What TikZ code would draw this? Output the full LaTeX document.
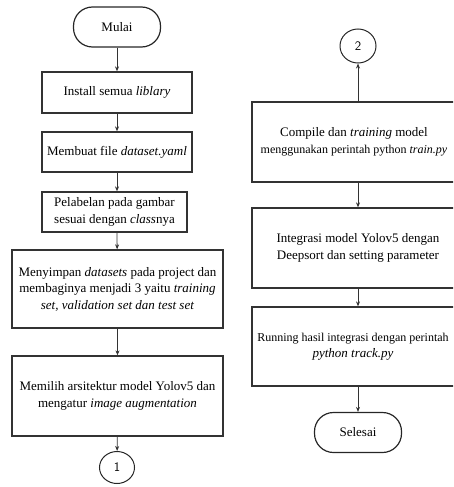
\documentclass[tikz,border=0pt]{standalone}
\usepackage{fontspec}
\setmainfont{Liberation Serif}
\usetikzlibrary{arrows.meta,shapes.geometric}
\begin{document}
\begin{tikzpicture}[x=1pt,y=-1pt,
  box/.style={draw=black!80, line width=1.3pt, align=center, inner sep=0pt,
    font=\fontsize{13}{16.5}\selectfont},
  lbl/.style={align=center, inner sep=0pt, font=\fontsize{13}{16.5}\selectfont},
  term/.style={draw=black!85, line width=1.2pt, rounded corners=19pt, minimum width=87pt, minimum height=40pt,
    font=\fontsize{13}{16}\selectfont, inner sep=0pt},
  conn/.style={draw=black!85, line width=1pt, ellipse, inner sep=0pt},
  arr/.style={-{Stealth[length=5pt,width=4pt]}, line width=0.8pt, black!80}]
\useasboundingbox (0,0) rectangle (453,487);
\clip (0,0) rectangle (453,487);
% left column
\node[term] (mulai) at (117,27) {Mulai};
\node[box, minimum width=150pt, minimum height=41pt] (b1) at (117,92.5) {Install semua \textit{liblary}};
\node[box, minimum width=150pt, minimum height=40pt] (b2) at (117,152) {Membuat file \textit{dataset.yaml}};
\node[box, minimum width=145pt, minimum height=40pt] (b3) at (114.5,212) {Pelabelan pada gambar\\sesuai dengan \textit{class}nya};
\node[box, minimum width=211pt, minimum height=78pt] (b4) at (117.5,289) {Menyimpan \textit{datasets} pada project dan\\membaginya menjadi 3 yaitu \textit{training}\\\textit{set, validation set dan test set}};
\node[box, minimum width=211pt, minimum height=80pt] (b5) at (117.5,396) {Memilih arsitektur model Yolov5 dan\\mengatur \textit{image augmentation}};
\node[conn, minimum width=35pt, minimum height=32pt] (c1) at (117,467.5) {};
\node (t1) at (c1) {\sffamily\fontsize{13}{15}\selectfont 1};
% right column
\node[conn, minimum width=36pt, minimum height=34pt] (c2) at (358,46) {};
\node (t2) at (c2) {\sffamily\fontsize{13}{15}\selectfont 2};
\node[box, minimum width=212pt, minimum height=80pt] (b6) at (358,142) {};
\node[lbl] (t6) at (354,142) {Compile dan \textit{training} model\\{\fontsize{12}{16}\selectfont menggunakan perintah python \textit{train.py}}};
\node[box, minimum width=212pt, minimum height=80pt] (b7) at (358,248) {Integrasi model Yolov5 dengan\\Deepsort dan setting parameter};
\node[box, minimum width=212pt, minimum height=79pt] (b8) at (358,346.5) {};
\node[lbl] (t8) at (353,346.5) {{\fontsize{12}{16}\selectfont Running hasil integrasi dengan perintah}\\\textit{python track.py}};
\node[term] (selesai) at (358,432.5) {Selesai};
% connectors
\draw[arr] (mulai) -- (b1);
\draw[arr] (b1) -- (b2);
\draw[arr] (b2.south) -- (b3.north -| b2.south);
\draw[arr] (b3.south -| b2.south) -- (b4);
\draw[arr] (b4) -- (b5);
\draw[arr] (b5) -- (c1);
\draw[arr] (b6) -- (c2);
\draw[arr] (b6) -- (b7);
\draw[arr] (b7) -- (b8);
\draw[arr] (b8) -- (selesai);
\end{tikzpicture}
\end{document}
